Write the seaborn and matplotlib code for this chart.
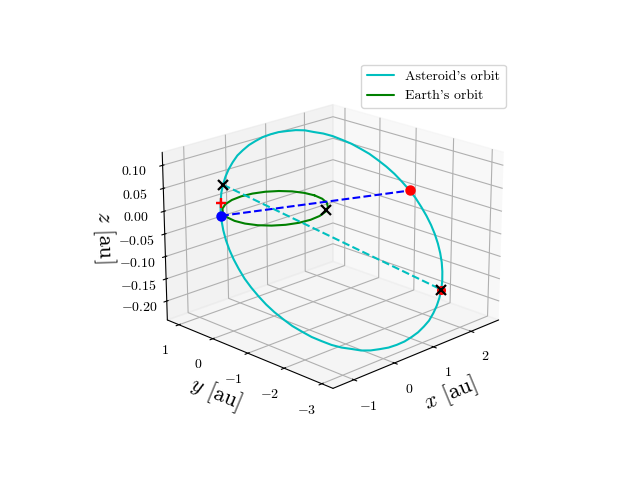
import matplotlib
matplotlib.use("Agg")
import matplotlib.pyplot as plt
import seaborn as sns

# orbit samples, in au
ast_x = [1.801, 1.924, 2.035, 2.137, 2.228, 2.306, 2.372, 2.424, 2.463, 2.488, 2.498, 2.495,
         2.477, 2.446, 2.400, 2.341, 2.270, 2.185, 2.090, 1.983, 1.866, 1.739, 1.604, 1.462,
         1.313, 1.159, 1.002, 0.842, 0.679, 0.516, 0.356, 0.196, 0.040, -0.111, -0.257, -0.396,
         -0.527, -0.650, -0.761, -0.863, -0.954, -1.032, -1.098, -1.150, -1.189, -1.214, -1.224, -1.221,
         -1.203, -1.172, -1.126, -1.067, -0.996, -0.911, -0.816, -0.709, -0.592, -0.465, -0.330, -0.188,
         -0.039, 0.115, 0.272, 0.432, 0.595, 0.758, 0.918, 1.078, 1.234, 1.385, 1.531, 1.670, 1.801]
ast_y = [-2.684, -2.587, -2.477, -2.357, -2.224, -2.082, -1.932, -1.775, -1.610, -1.441, -1.267, -1.091,
         -0.914, -0.737, -0.562, -0.390, -0.222, -0.059, 0.097, 0.245, 0.384, 0.514, 0.632, 0.737,
         0.832, 0.911, 0.977, 1.027, 1.064, 1.085, 1.090, 1.080, 1.056, 1.015, 0.959, 0.889,
         0.806, 0.709, 0.599, 0.479, 0.346, 0.204, 0.054, -0.103, -0.268, -0.437, -0.611, -0.787,
         -0.964, -1.141, -1.316, -1.488, -1.656, -1.819, -1.975, -2.123, -2.262, -2.392, -2.510, -2.615,
         -2.710, -2.789, -2.855, -2.905, -2.942, -2.963, -2.968, -2.958, -2.934, -2.893, -2.837, -2.767, -2.684]
ast_z = [-0.161, -0.149, -0.134, -0.120, -0.106, -0.091, -0.076, -0.061, -0.046, -0.031, -0.015, -0.001,
         0.013, 0.027, 0.040, 0.052, 0.064, 0.074, 0.084, 0.092, 0.100, 0.106, 0.110, 0.115,
         0.117, 0.117, 0.117, 0.115, 0.112, 0.107, 0.102, 0.095, 0.088, 0.078, 0.068, 0.057,
         0.045, 0.033, 0.018, 0.004, -0.010, -0.025, -0.040, -0.055, -0.070, -0.085, -0.101, -0.115,
         -0.129, -0.143, -0.156, -0.168, -0.180, -0.190, -0.200, -0.208, -0.216, -0.222, -0.226, -0.231,
         -0.233, -0.233, -0.233, -0.231, -0.228, -0.223, -0.218, -0.211, -0.204, -0.194, -0.184, -0.173, -0.161]

earth_x = [1.015, 0.981, 0.883, 0.726, 0.523, 0.285, 0.03, -0.225, -0.463, -0.666, -0.823, -0.921,
           -0.955, -0.921, -0.823, -0.666, -0.463, -0.225, 0.03, 0.285, 0.523, 0.726, 0.883, 0.981, 1.015]
earth_y = [-0.03, 0.225, 0.463, 0.666, 0.823, 0.921, 0.955, 0.921, 0.823, 0.666, 0.463, 0.225,
           -0.03, -0.285, -0.523, -0.726, -0.883, -0.981, -1.015, -0.981, -0.883, -0.726, -0.523, -0.285, -0.03]
earth_z = [0.0] * len(earth_x)

# apsides of the asteroid
apsides_x = [-0.527, 1.801]
apsides_y = [0.806, -2.684]
apsides_z = [0.045, -0.161]

# line of sight, earth to asteroid
los_x = [-0.94, 2.50]
los_y = [0.37, -1.12]
los_z = [0.0, -0.0025]

node_x = [0.58]
node_y = [-0.83]
node_z = [0.0]

plus_x = [-0.81]
plus_y = [0.54]
plus_z = [0.019]

x_ticks = [-1, 0, 1, 2]
y_ticks = [-3, -2, -1, 0, 1]
z_ticks = [-0.20, -0.15, -0.10, -0.05, 0.0, 0.05, 0.10]

sns.set_theme(style="ticks", context="notebook", color_codes=False, rc={
    "font.family": "cmr10",
    "mathtext.fontset": "cm",
    "axes.formatter.use_mathtext": True,
    "axes.unicode_minus": False,
    "font.size": 10,
    "xtick.labelsize": 10,
    "ytick.labelsize": 10,
    "legend.fontsize": 10,
    "axes.edgecolor": "black",
    "axes.linewidth": 0.8,
    "grid.color": "#b0b0b0",
    "grid.linewidth": 0.8,
    "lines.linewidth": 1.5,
    "text.color": "black",
    "xtick.color": "black",
    "ytick.color": "black",
    "axes.labelcolor": "black",
    "xtick.major.width": 0.8,
    "ytick.major.width": 0.8,
    "legend.frameon": True,
    "legend.framealpha": 0.8,
    "legend.edgecolor": "0.8",
    "legend.fancybox": True,
})

fig = plt.figure(figsize=(6.4, 4.8), dpi=100)
ax = fig.add_subplot(projection="3d")
ax.view_init(elev=20, azim=-135)
ax.computed_zorder = False

ax.plot(ast_x, ast_y, ast_z, color="c", label="Asteroid's orbit")
ax.plot(earth_x, earth_y, earth_z, color="g", label="Earth's orbit")
ax.plot(apsides_x, apsides_y, apsides_z, "c--")
ax.plot(los_x, los_y, los_z, "b--")

ax.plot(los_x[:1], los_y[:1], los_z[:1], "o", color="b", ms=6.5)
ax.plot(los_x[1:], los_y[1:], los_z[1:], "o", color="r", ms=6.5)
ax.plot(plus_x, plus_y, plus_z, "_", color="b", ms=7, mew=1.5)
ax.plot(plus_x, plus_y, plus_z, "+", color="r", ms=6.5, mew=1.7)
ax.plot(apsides_x[1:], apsides_y[1:], apsides_z[1:], "o", color="r", ms=5.5)
ax.plot(apsides_x, apsides_y, apsides_z, "x", color="k", ms=7, mew=1.6)
ax.plot(node_x, node_y, node_z, "x", color="k", ms=7, mew=1.6)

ax.set_xlim(-1.5, 2.76, view_margin=0)
ax.set_ylim(-3.29, 1.35, view_margin=0)
ax.set_zlim(-0.243, 0.128, view_margin=0)
ax.set_xticks(x_ticks)
ax.set_yticks(y_ticks)
ax.set_zticks(z_ticks)
ax.set_xlabel("$x$ [au]", fontsize=16, labelpad=3)
ax.set_ylabel("$y$ [au]", fontsize=16, labelpad=3)
ax.set_zlabel("$z$ [au]", fontsize=16, labelpad=4)
ax.legend()

fig.savefig("out.png", dpi=100)
